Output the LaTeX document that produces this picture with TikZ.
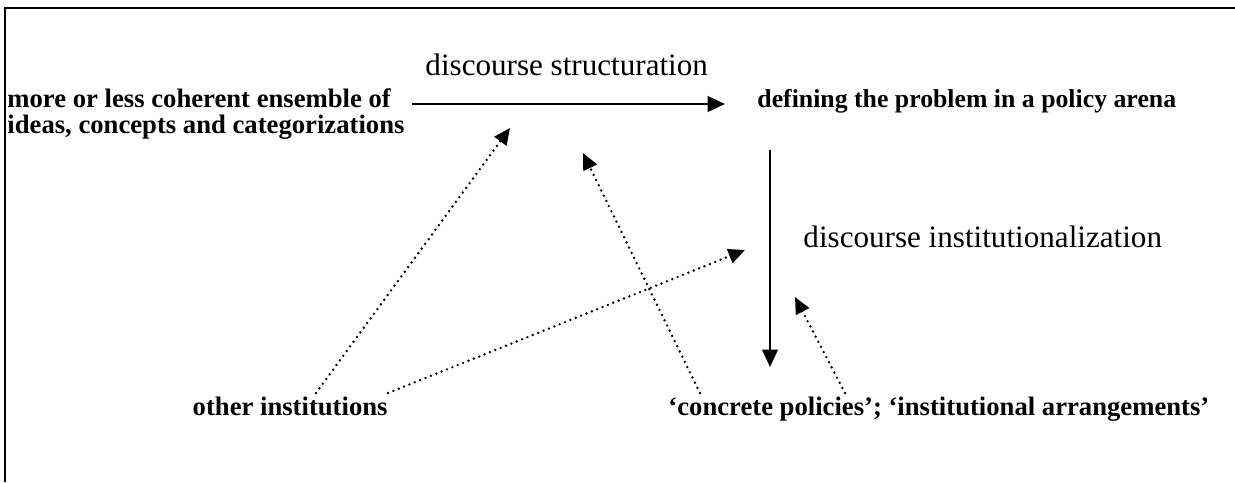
\documentclass[tikz,border=0pt]{standalone}
\usepackage{fontspec}
\setmainfont{Liberation Serif}
\usetikzlibrary{arrows.meta}
\begin{document}
\begin{tikzpicture}[x=0.45pt,y=-0.45pt]
\tikzstyle{mybold} = [font=\bfseries\fontsize{12}{11.3}\selectfont, inner sep=0pt, align=left]
\tikzstyle{myplain} = [font=\fontsize{14}{16}\selectfont, inner sep=0pt]
\tikzstyle{myflow} = [line width=0.9pt, -{Triangle[length=7.8pt,width=7pt]}]
\tikzstyle{myinfluence} = [line width=1.2pt, line cap=round, dash pattern=on 0pt off 2.6pt,
  -{Triangle[length=7.4pt,width=6.6pt]}]

\useasboundingbox (0,0) rectangle (1235,482);
\draw[line width=1.2pt] (5,482) -- (5,8) -- (1235,8);

\node[mybold, anchor=base west] (ensemble) at (7,133)
  {more or less coherent ensemble of\\ideas, concepts and categorizations};
\node[myplain, anchor=base west] (structuration) at (425,75) {discourse structuration};
\node[mybold, font=\bfseries\fontsize{11.6}{13}\selectfont, anchor=base west] (arena) at (757,107)
  {defining the problem in a policy arena};
\node[myplain, anchor=base west] (institutionalization) at (803,247) {discourse institutionalization};
\node[mybold, anchor=base east] (others) at (388,415) {other institutions};
\node[mybold, anchor=base west] (policies) at (668,415)
  {`concrete policies'; `institutional arrangements'};

% main line of the discourse
\coordinate (struct start) at (412,104);
\coordinate (struct end) at (725,104);
\coordinate (inst start) at (770,150);
\coordinate (inst end) at (770,367);
\draw[myflow] (struct start) -- (struct end);
\draw[myflow] (inst start) -- (inst end);

% influences from below
\coordinate (others a) at (316,393);
\coordinate (others b) at (388,393);
\coordinate (policies a) at (700,393);
\coordinate (policies b) at (845,393);
\coordinate (struct in a) at (510,128);
\coordinate (struct in b) at (583,153);
\coordinate (inst in a) at (745,250);
\coordinate (inst in b) at (795,297);
\draw[myinfluence] (others a) -- (struct in a);
\draw[myinfluence] (others b) -- (inst in a);
\draw[myinfluence] (policies a) -- (struct in b);
\draw[myinfluence] (policies b) -- (inst in b);
\end{tikzpicture}
\end{document}
